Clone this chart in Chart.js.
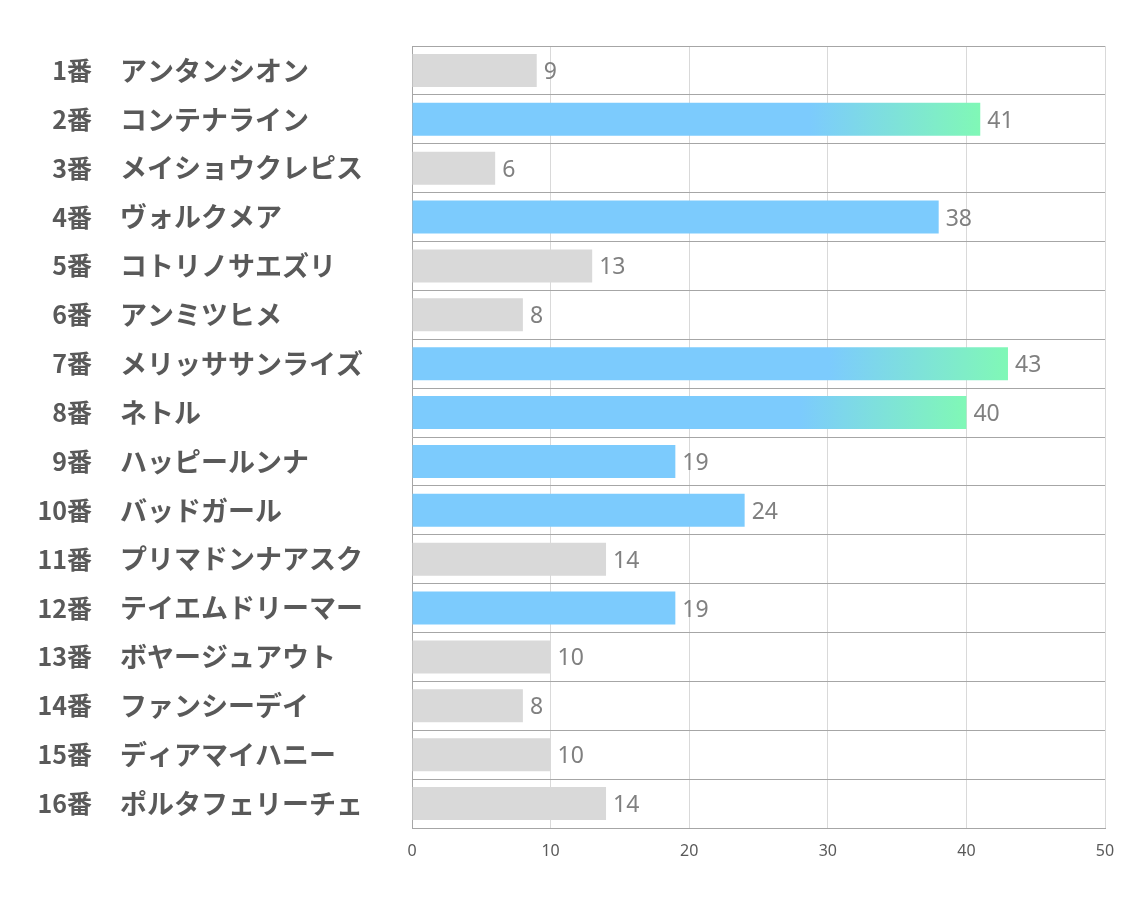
<!DOCTYPE html>
<html>
<head>
<meta charset="utf-8">
<script src="https://cdn.jsdelivr.net/npm/chart.js@4/dist/chart.umd.min.js"></script>
<style>
  html, body { margin: 0; padding: 0; background: #ffffff; }
  #wrap { width: 1134px; height: 907px; }
</style>
</head>
<body>
<div id="wrap"><canvas id="c" width="1134" height="907"></canvas></div>
<script>
// ---- data ----
const numbers = ["1番","2番","3番","4番","5番","6番","7番","8番","9番","10番","11番","12番","13番","14番","15番","16番"];
const names = ["アンタンシオン","コンテナライン","メイショウクレピス","ヴォルクメア","コトリノサエズリ","アンミツヒメ","メリッササンライズ","ネトル","ハッピールンナ","バッドガール","プリマドンナアスク","テイエムドリーマー","ボヤージュアウト","ファンシーデイ","ディアマイハニー","ポルタフェリーチェ"];
const values = [9, 41, 6, 38, 13, 8, 43, 40, 19, 24, 14, 19, 10, 8, 10, 14];
// group: "top" = gradient bar, "blue" = highlighted, "gray" = other
const groups = ["gray","top","gray","blue","gray","gray","top","top","blue","blue","gray","blue","gray","gray","gray","gray"];
const xTicks = [0, 10, 20, 30, 40, 50];

const BLUE = "#7ccbfd";
const GREEN = "#80f8b6";
const GRAY = "#d9d9d9";

function barColor(ctx) {
  const i = ctx.dataIndex;
  const g = groups[i];
  if (g === "gray") return GRAY;
  if (g === "blue") return BLUE;
  const chart = ctx.chart;
  const xs = chart.scales && chart.scales.x;
  if (!chart.chartArea || !xs) return BLUE;
  const x0 = xs.getPixelForValue(0);
  const x1 = xs.getPixelForValue(values[i]);
  const grad = chart.ctx.createLinearGradient(x0, 0, x1, 0);
  grad.addColorStop(0, BLUE);
  grad.addColorStop(0.7, BLUE);
  grad.addColorStop(1, GREEN);
  return grad;
}

const valueLabels = {
  id: "valueLabels",
  afterDatasetsDraw(chart) {
    const ctx = chart.ctx;
    const meta = chart.getDatasetMeta(0);
    ctx.save();
    ctx.font = "23px 'Noto Sans', 'Open Sans', sans-serif";
    ctx.fillStyle = "#808080";
    ctx.textAlign = "left";
    ctx.textBaseline = "middle";
    meta.data.forEach((bar, i) => {
      ctx.fillText(String(values[i]), bar.x + 7, bar.y + 2);
    });
    ctx.restore();
  }
};

new Chart(document.getElementById("c"), {
  type: "bar",
  data: {
    labels: names,
    datasets: [{
      data: values,
      backgroundColor: barColor,
      borderWidth: 0,
      barPercentage: 0.675,
      categoryPercentage: 1.0,
      yAxisID: "y"
    }]
  },
  plugins: [valueLabels],
  options: {
    indexAxis: "y",
    responsive: false,
    animation: false,
    layout: { padding: { top: 46, right: 29, left: 0, bottom: 0 } },
    plugins: { legend: { display: false }, tooltip: { enabled: false } },
    scales: {
      x: {
        type: "linear",
        position: "bottom",
        min: 0,
        max: 50,
        z: 1,
        afterBuildTicks: (scale) => { scale.ticks = xTicks.map(v => ({ value: v })); },
        afterFit: (scale) => { scale.height = 79; },
        grid: { color: "rgba(0,0,0,0.15)", lineWidth: 1, drawTicks: false },
        border: { display: true, color: "#a6a6a6", width: 1 },
        ticks: {
          padding: 14,
          color: "#595959",
          font: { family: "'Noto Sans', 'Open Sans', sans-serif", size: 16 }
        }
      },
      y: {
        type: "category",
        position: "left",
        weight: 1,
        offset: true,
        afterFit: (scale) => { scale.width = 292; },
        grid: { offset: true, color: "#a6a6a6", lineWidth: 1, drawTicks: false },
        border: { display: true, color: "#a6a6a6", width: 1 },
        ticks: {
          crossAlign: "far",
          padding: 0,
          color: "#595959",
          autoSkip: false,
          font: { family: "'Noto Sans CJK JP', 'Noto Sans', sans-serif", size: 27, weight: "bold" }
        }
      },
      yNum: {
        type: "category",
        position: "left",
        weight: 2,
        offset: true,
        labels: numbers,
        afterFit: (scale) => { scale.width = 120; },
        grid: { display: false, drawTicks: false },
        border: { display: false },
        ticks: {
          crossAlign: "near",
          padding: 28,
          color: "#595959",
          autoSkip: false,
          font: { family: "'Noto Sans CJK JP', 'Noto Sans', sans-serif", size: 25, weight: "bold" }
        }
      }
    }
  }
});
</script>
</body>
</html>
